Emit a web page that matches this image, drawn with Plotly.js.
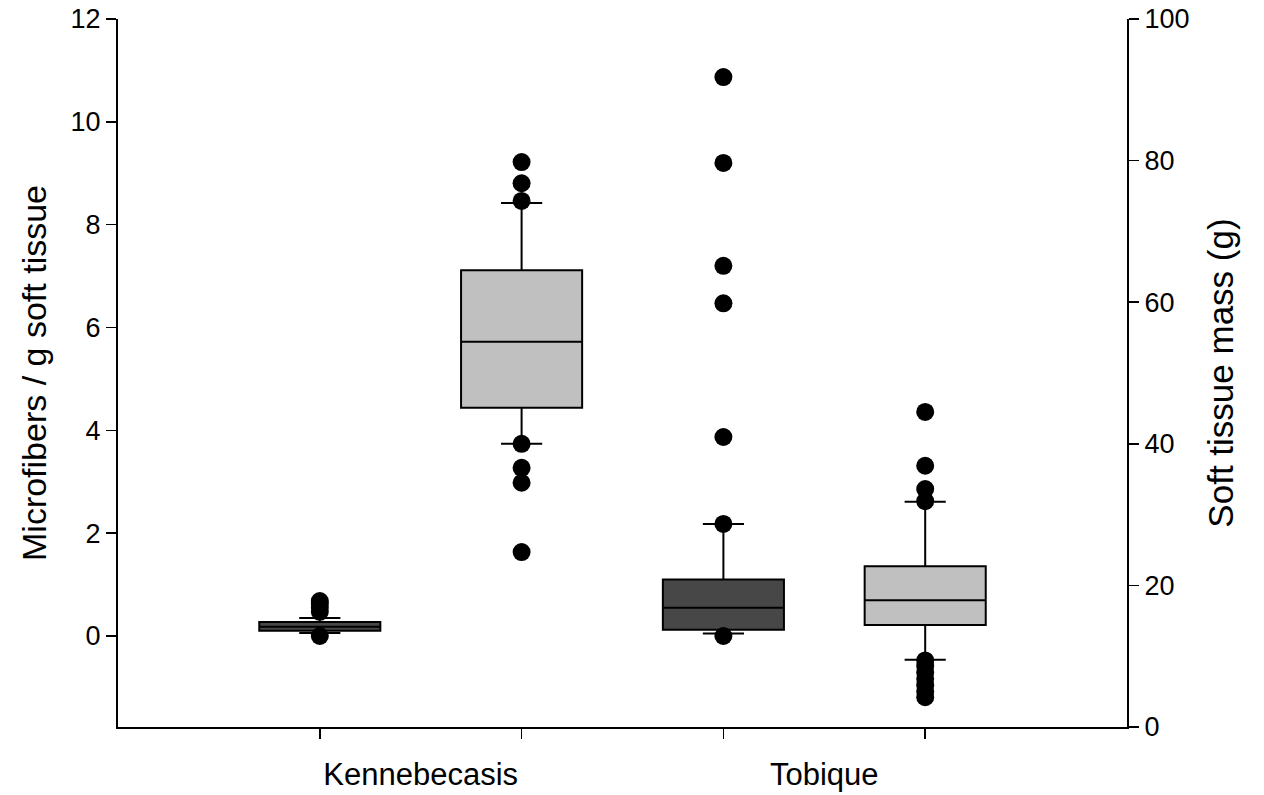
<!DOCTYPE html>
<html>
<head>
<meta charset="utf-8">
<script src="https://cdn.plot.ly/plotly-3.0.1.min.js"></script>
<style>html,body{margin:0;padding:0;background:#fff;}#chart{width:1264px;height:795px;}</style>
</head>
<body>
<div id="chart"></div>
<script>
// ---- data ----
var categories = ['Kennebecasis', 'Tobique'];
var categoryCenters = [1.5, 3.5];
var groupPositions = [1, 2, 3, 4];

// Microfibers / g soft tissue (left axis): Kennebecasis, Tobique
var fibPos = [1, 3];
var fibQ1 = [0.10, 0.12];
var fibMedian = [0.18, 0.55];
var fibQ3 = [0.27, 1.10];
var fibLower = [0.06, 0.05];
var fibUpper = [0.35, 2.18];
var fibOutliersKen = [0.0, 0.47, 0.55, 0.62, 0.68];
var fibOutliersTob = [0.0, 2.18, 3.87, 6.47, 7.2, 9.2, 10.87];

// Soft tissue mass (g) (right axis): Kennebecasis, Tobique
var massPos = [2, 4];
var massQ1 = [45.1, 14.4];
var massMedian = [54.4, 17.9];
var massQ3 = [64.5, 22.7];
var massLower = [40.0, 9.5];
var massUpper = [74.0, 31.8];
var massOutliersKen = [24.7, 34.5, 36.6, 40.0, 74.3, 76.8, 79.8];
var massOutliersTob = [4.2, 5.0, 5.9, 6.8, 7.7, 8.6, 9.4, 31.9, 33.6, 36.9, 44.5];

var leftTicks = [0, 2, 4, 6, 8, 10, 12];
var rightTicks = [0, 20, 40, 60, 80, 100];

// ---- styles ----
var FONT = 'Liberation Sans, Arial, sans-serif';
var darkFill = '#474747';
var lightFill = '#c0c0c0';
var lineStyle = {color: '#000', width: 2};

function rep(v, n) { var a = []; for (var i = 0; i < n; i++) a.push(v); return a; }

var traces = [
  {
    type: 'box', x: fibPos, q1: fibQ1, median: fibMedian, q3: fibQ3,
    lowerfence: fibLower, upperfence: fibUpper, boxpoints: false,
    width: 0.6, whiskerwidth: 0.34, fillcolor: darkFill, line: lineStyle,
    yaxis: 'y', xaxis: 'x', hoverinfo: 'y'
  },
  {
    type: 'box', x: massPos, q1: massQ1, median: massMedian, q3: massQ3,
    lowerfence: massLower, upperfence: massUpper, boxpoints: false,
    width: 0.6, whiskerwidth: 0.34, fillcolor: lightFill, line: lineStyle,
    yaxis: 'y2', xaxis: 'x', hoverinfo: 'y'
  },
  {
    type: 'scatter', mode: 'markers', x: rep(fibPos[0], fibOutliersKen.length), y: fibOutliersKen,
    marker: {color: '#000', size: 18}, yaxis: 'y', xaxis: 'x'
  },
  {
    type: 'scatter', mode: 'markers', x: rep(fibPos[1], fibOutliersTob.length), y: fibOutliersTob,
    marker: {color: '#000', size: 18}, yaxis: 'y', xaxis: 'x'
  },
  {
    type: 'scatter', mode: 'markers', x: rep(massPos[0], massOutliersKen.length), y: massOutliersKen,
    marker: {color: '#000', size: 18}, yaxis: 'y2', xaxis: 'x'
  },
  {
    type: 'scatter', mode: 'markers', x: rep(massPos[1], massOutliersTob.length), y: massOutliersTob,
    marker: {color: '#000', size: 18}, yaxis: 'y2', xaxis: 'x'
  },
  // invisible trace to activate the label axis
  {
    type: 'scatter', mode: 'markers', x: categoryCenters, y: [0, 0],
    marker: {opacity: 0}, xaxis: 'x2', yaxis: 'y', hoverinfo: 'skip'
  }
];

var layout = {
  width: 1264, height: 795,
  paper_bgcolor: '#fff', plot_bgcolor: '#fff',
  showlegend: false,
  margin: {l: 118, r: 137, t: 19, b: 68},
  font: {family: FONT, color: '#000', size: 24},
  xaxis: {
    range: [0, 5], tickvals: groupPositions, ticktext: rep('', groupPositions.length),
    ticks: 'outside', ticklen: 10, tickwidth: 1.5, tickcolor: '#000',
    showline: true, linewidth: 2, linecolor: '#000',
    showgrid: false, zeroline: false, fixedrange: true
  },
  xaxis2: {
    overlaying: 'x', anchor: 'y', side: 'bottom',
    range: [0, 5], tickvals: categoryCenters, ticktext: categories,
    ticks: '', showline: false, showgrid: false, zeroline: false,
    tickfont: {family: FONT, size: 31, color: '#000'}, ticklabelstandoff: 26
  },
  yaxis: {
    range: [-1.77, 12], tickvals: leftTicks, ticktext: leftTicks.map(String),
    ticks: 'outside', ticklen: 10, tickwidth: 1.5, tickcolor: '#000',
    showline: true, linewidth: 2, linecolor: '#000',
    showgrid: false, zeroline: false,
    tickfont: {family: FONT, size: 27, color: '#000'},
    title: {text: 'Microfibers / g soft tissue', font: {family: FONT, size: 34, color: '#000'}, standoff: 14}
  },
  yaxis2: {
    overlaying: 'y', side: 'right', anchor: 'x',
    range: [0, 100], tickvals: rightTicks, ticktext: rightTicks.map(String),
    ticks: 'outside', ticklen: 10, tickwidth: 1.5, tickcolor: '#000',
    showline: true, linewidth: 2, linecolor: '#000',
    showgrid: false, zeroline: false,
    tickfont: {family: FONT, size: 27, color: '#000'},
    title: {text: 'Soft tissue mass (g)', font: {family: FONT, size: 35, color: '#000'}, standoff: 20}
  }
};

Plotly.newPlot('chart', traces, layout, {staticPlot: true, displayModeBar: false});
</script>
</body>
</html>
